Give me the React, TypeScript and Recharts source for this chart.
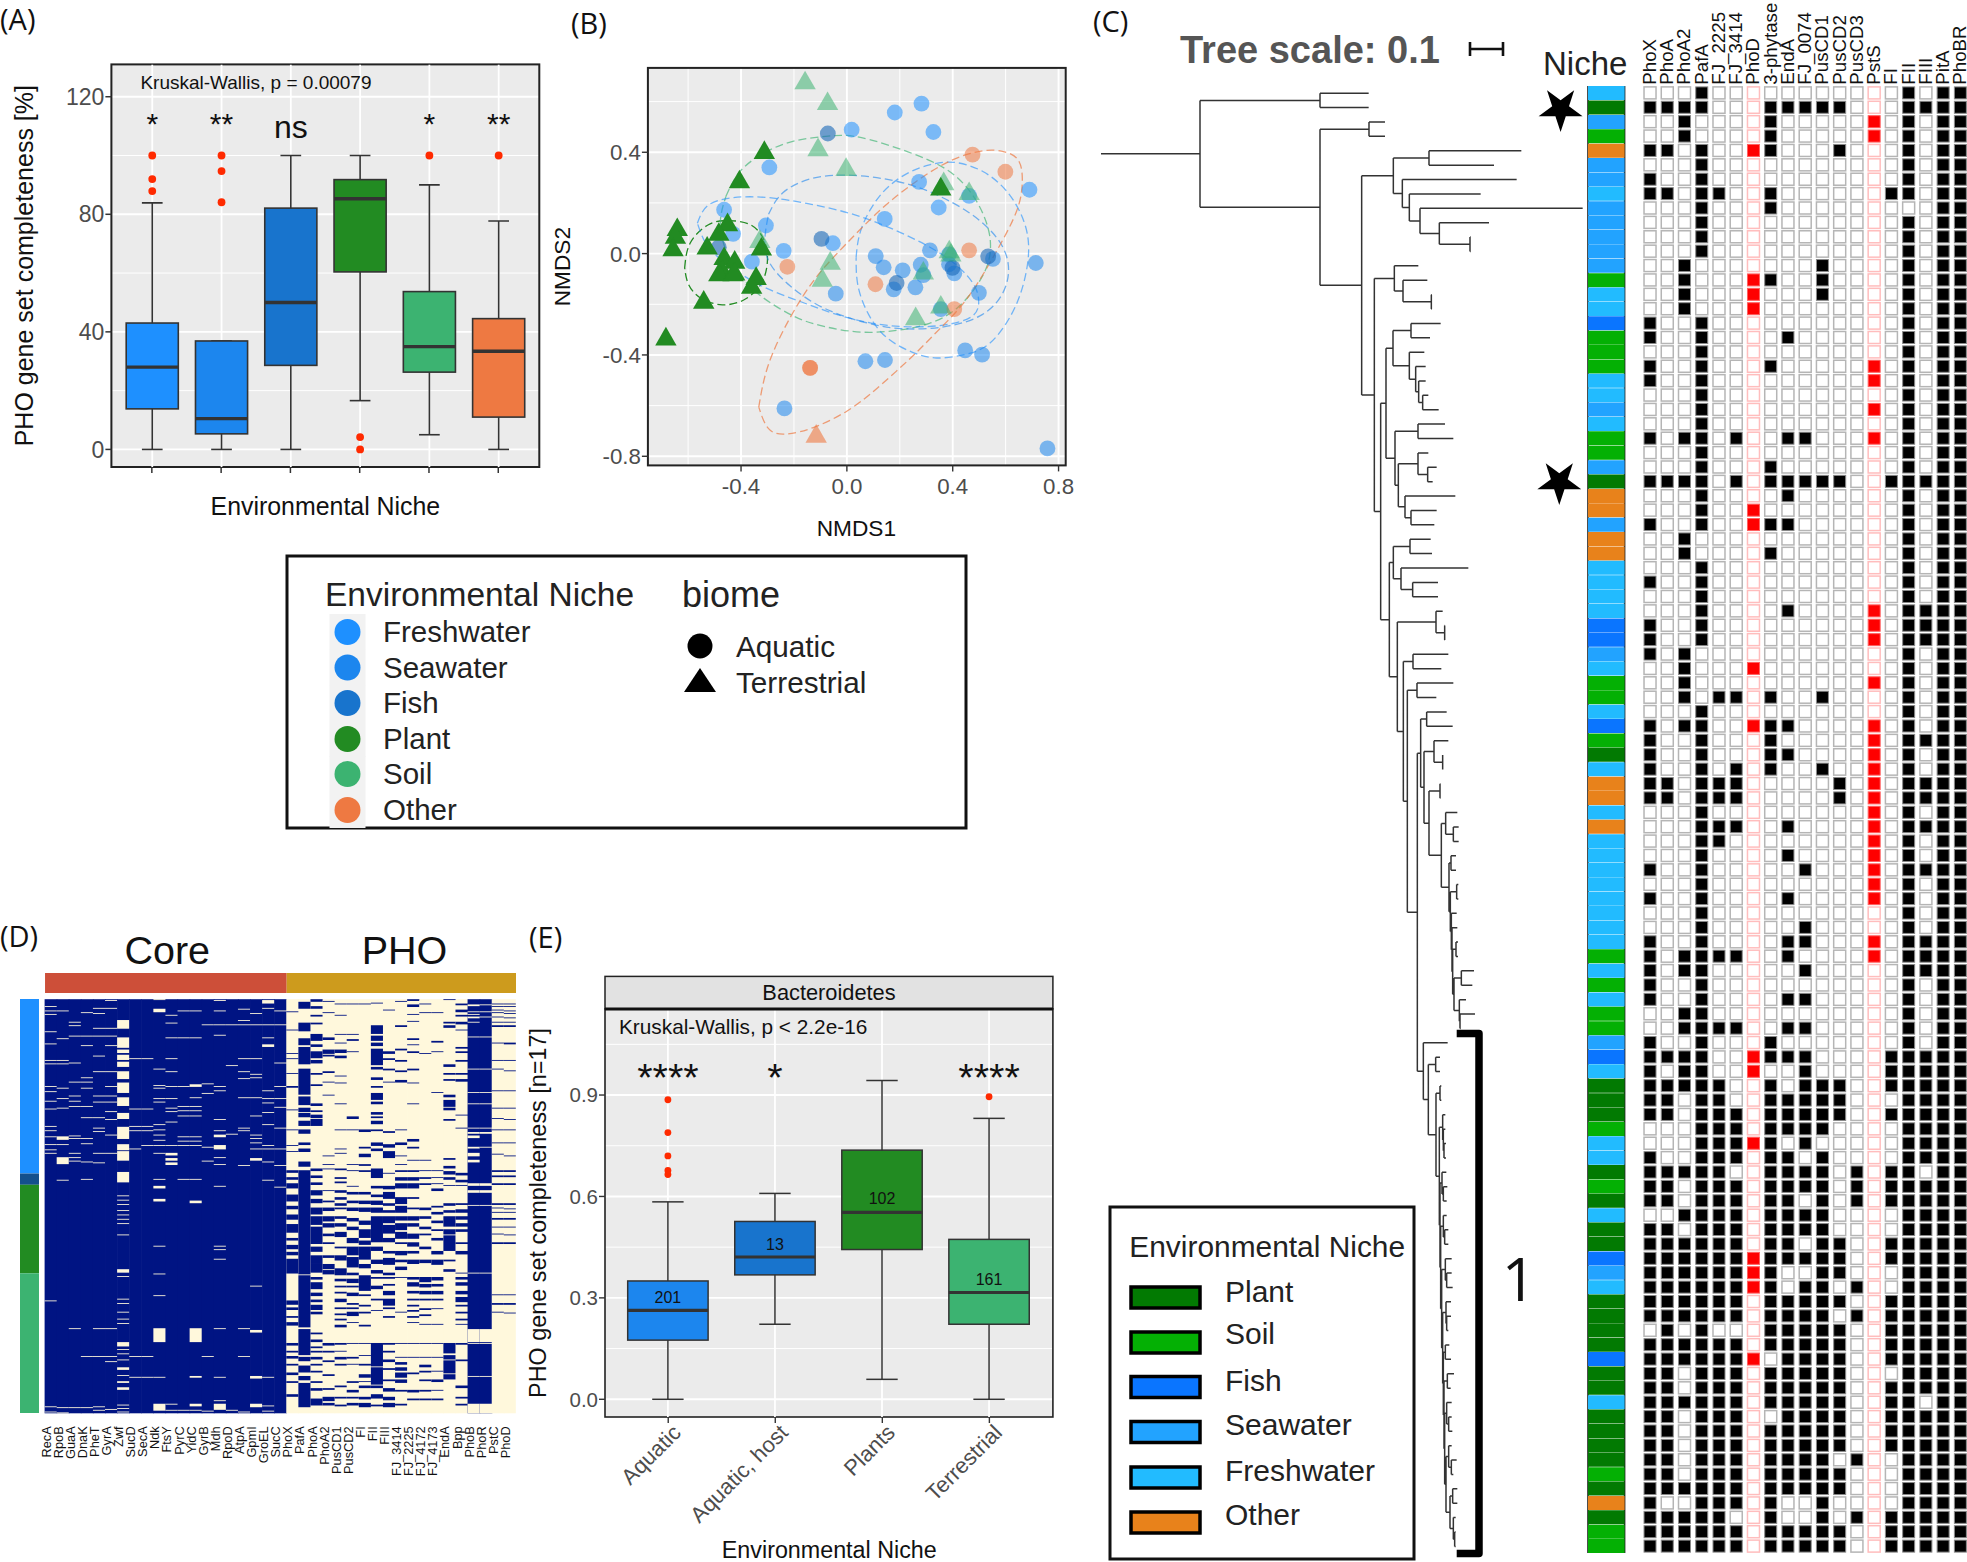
import {
  Bar,
  BarChart,
  CartesianGrid,
  Cell,
  ComposedChart,
  Line,
  Scatter,
  Symbols,
  XAxis,
  YAxis,
  usePlotArea,
} from 'recharts'

const SANS = "'Liberation Sans', Arial, sans-serif"
const LABEL_FONT = "'Open Sans', sans-serif"
const GREY = '#4D4D4D'
const DARK = '#333333'
const PANEL_BG = '#EBEBEB'
const RED_DOT = '#FF2A00'

// panel A
const nicheNames = ['Freshwater', 'Seawater', 'Fish', 'Plant', 'Soil', 'Other']
const nicheFills = ['#1E90FF', '#1C86EE', '#1874CD', '#228B22', '#3CB371', '#EE7942']
const aLow = [0, 0, 0, 16.6, 5, 0]
const aQ1 = [13.8, 5.3, 28.6, 60.4, 26.3, 11]
const aMedian = [28, 10.5, 50, 85.3, 35, 33.4]
const aQ3 = [43, 36.9, 82.1, 91.8, 53.7, 44.5]
const aHigh = [83.9, 36.9, 100, 100, 90, 77.7]
const aOutliers = [[100, 92, 87.9], [100, 94.7, 84.1], [], [4.2, 0], [100], [100]]
const aSignif = ['*', '**', 'ns', '', '*', '**']

// panel E
const eNames = ['Aquatic', 'Aquatic, host', 'Plants', 'Terrestrial']
const eFills = ['#1C86EE', '#1874CD', '#228B22', '#3CB371']
const eLow = [0, 0.222, 0.059, 0]
const eQ1 = [0.175, 0.368, 0.443, 0.222]
const eMedian = [0.263, 0.421, 0.553, 0.316]
const eQ3 = [0.35, 0.526, 0.737, 0.473]
const eHigh = [0.584, 0.609, 0.943, 0.831]
const eOutliers = [[0.886, 0.789, 0.72, 0.677, 0.665], [], [], [0.895]]
const eSignif = ['****', '*', '', '****']
const eCounts = [201, 13, 102, 161]
const eCountAt = [0.302, 0.459, 0.593, 0.355]

// panel B, NMDS scores
const freshwaterPts = [
  [0.282, 0.592], [0.181, 0.557], [0.327, 0.48], [0.018, 0.489], [-0.293, 0.34], [0.273, 0.283],
  [0.347, 0.182], [0.462, 0.228], [0.69, 0.252], [0.143, 0.137], [-0.464, 0.173], [-0.306, 0.111],
  [-0.43, 0.078], [-0.053, 0.041], [-0.239, 0.011], [-0.359, -0.032],
]
const seawaterPts = [
  [0.109, -0.01], [0.139, -0.054], [0.211, -0.066], [0.314, 0.013], [0.279, -0.044], [0.386, -0.003],
  [0.406, -0.078], [0.386, -0.042], [0.552, -0.021], [0.714, -0.037], [0.177, -0.141], [0.259, -0.133],
  [0.289, -0.085], [0.499, -0.155], [-0.042, -0.158], [0.355, -0.219], [0.447, -0.382], [0.511, -0.399],
  [0.07, -0.425], [0.144, -0.42], [-0.236, -0.611], [0.758, -0.769],
]
const fishPts = [
  [-0.072, 0.474], [-0.096, 0.058], [-0.484, 0.025], [0.399, -0.056], [0.534, -0.011], [0.188, -0.116],
]
const plantPts = [
  [-0.312, 0.398], [-0.406, 0.282], [-0.641, 0.094], [-0.648, 0.063], [-0.657, 0.014], [-0.451, 0.113],
  [-0.484, 0.075], [-0.528, 0.021], [-0.464, -0.021], [-0.424, -0.035], [-0.323, 0.017], [-0.471, -0.071],
  [-0.484, -0.085], [-0.43, -0.085], [-0.424, -0.082], [-0.343, -0.099], [-0.36, -0.134], [-0.541, -0.193],
  [-0.684, -0.338], [0.355, 0.254],
]
const soilPts = [
  [-0.158, 0.673], [-0.073, 0.591], [-0.109, 0.409], [-0.003, 0.331], [-0.329, 0.047], [-0.063, -0.039],
  [-0.093, -0.106], [0.366, 0.275], [0.462, 0.236], [0.387, 0.006], [0.393, -0.007], [0.289, -0.078],
  [0.26, -0.258], [0.355, -0.212],
]
const otherCircles = [
  [0.475, 0.391], [0.599, 0.323], [0.462, 0.013], [-0.225, -0.052], [0.108, -0.121], [0.406, -0.219],
  [-0.139, -0.451], [-0.139, -0.451],
]
const otherTriangles = [[-0.116, -0.722]]

const plantEllipse = [
  [-0.613, -0.056], [-0.592, 0.042], [-0.525, 0.113], [-0.451, 0.13], [-0.363, 0.113], [-0.309, 0.042],
  [-0.302, -0.049], [-0.329, -0.127], [-0.39, -0.183], [-0.471, -0.202], [-0.552, -0.176], [-0.599, -0.12],
  [-0.613, -0.056],
]
const soilEllipse = [
  [-0.457, 0.226], [-0.404, 0.324], [-0.312, 0.398], [-0.201, 0.444], [-0.08, 0.463], [0.028, 0.463],
  [0.163, 0.426], [0.298, 0.374], [0.406, 0.31], [0.487, 0.212], [0.534, 0.099], [0.541, 0], [0.507, -0.099],
  [0.42, -0.212], [0.312, -0.275], [0.19, -0.303], [0.055, -0.31], [-0.08, -0.289], [-0.201, -0.247],
  [-0.323, -0.169], [-0.397, -0.092], [-0.457, 0.014], [-0.478, 0.127], [-0.457, 0.226],
]
const freshwaterEllipse = [
  [-0.565, 0.12], [-0.525, 0.19], [-0.43, 0.221], [-0.296, 0.221], [-0.147, 0.197], [0.001, 0.162],
  [0.136, 0.113], [0.271, 0.049], [0.393, -0.028], [0.474, -0.113], [0.498, -0.183], [0.474, -0.247],
  [0.366, -0.282], [0.231, -0.289], [0.096, -0.275], [-0.039, -0.24], [-0.174, -0.19], [-0.323, -0.127],
  [-0.444, -0.049], [-0.525, 0.028], [-0.565, 0.12],
]
const seawaterEllipse = [
  [-0.296, 0.155], [-0.242, 0.24], [-0.134, 0.296], [0.001, 0.31], [0.136, 0.296], [0.271, 0.261],
  [0.406, 0.197], [0.514, 0.12], [0.588, 0.028], [0.611, -0.071], [0.582, -0.169], [0.501, -0.247],
  [0.366, -0.289], [0.204, -0.296], [0.055, -0.268], [-0.093, -0.212], [-0.215, -0.127], [-0.296, -0.028],
  [-0.309, 0.071], [-0.296, 0.155],
]
const fishEllipse = [
  [0.035, -0.014], [0.055, 0.099], [0.123, 0.226], [0.217, 0.31], [0.312, 0.35], [0.406, 0.36], [0.514, 0.324],
  [0.609, 0.24], [0.669, 0.127], [0.687, 0.014], [0.669, -0.113], [0.622, -0.24], [0.541, -0.353],
  [0.447, -0.398], [0.339, -0.412], [0.244, -0.388], [0.15, -0.331], [0.082, -0.24], [0.042, -0.127],
  [0.035, -0.014],
]
const otherEllipse = [
  [-0.333, -0.606], [-0.296, -0.437], [-0.215, -0.254], [-0.12, -0.099], [-0.012, 0.028], [0.123, 0.169],
  [0.258, 0.282], [0.393, 0.367], [0.514, 0.406], [0.595, 0.402], [0.649, 0.367], [0.663, 0.282],
  [0.642, 0.169], [0.568, 0.014], [0.46, -0.169], [0.352, -0.296], [0.244, -0.409], [0.109, -0.536],
  [0.001, -0.621], [-0.12, -0.684], [-0.228, -0.712], [-0.296, -0.691], [-0.333, -0.606],
]

// panel C
const geneColumns = [
  'PhoX', 'PhoA', 'PhoA2', 'PafA', 'FJ_2225', 'FJ_3414', 'PhoD', '3-phytase', 'EndA', 'FJ_0074',
  'PusCD1', 'PusCD2', 'PusCD3', 'PstS', 'FI', 'FII', 'FIII', 'PitA', 'PhoBR',
]
const redColumns = [6, 13]
const genePresence = [
  '0001000000000001011', '1111000111110001111', '0010000100000101011', '0010000100000101011',
  '1101001100010001011', '0001000000000001011', '1001000000000001011', '1101100100000011011',
  '0001000100000000011', '0001000000000001011', '0001000000000001011', '0001000000000001011',
  '0010000000100001011', '0010001100100001011', '0010001000100001011', '0010001000000001011',
  '1001000000000001011', '1001000010000001011', '0001000000000001011', '1001000100000101011',
  '1001000000000101011', '0001000000000001011', '0001000000000101011', '0001000000000001011',
  '1011010011000101011', '0001000000000001011', '0001000100000001011', '1111010111110011111',
  '0001000010000001011', '0001001000000001011', '1001001110000001011', '0010000000000001011',
  '0010000100000001011', '0001000000000001011', '1001000000000001011', '0001000000000001011',
  '0001000010000101111', '1001000000000101111', '1001000000000101111', '1010000000000001011',
  '0010001000000001011', '0010000000000101011', '0010110100100001011', '0001000000000001011',
  '1011001110000101011', '1001000100000101111', '1001000110000101011', '1001010100100101011',
  '1101110000010101111', '1101110000010101111', '0001000000000101011', '0001110010000101111',
  '0001100000000101011', '0001000010000101011', '1001000001000101111', '0001000000000101011',
  '1001000010000101011', '0001000000000001011', '0001000001000001011', '1001000011000101111',
  '1011110010000101111', '1011000001000001111', '1001000000000001011', '1001000011000001011',
  '0011000000000001011', '0011110011000001011', '1001000100000001011', '1111001111000011111',
  '1011001001000011111', '1111100101110011111', '1101100111110001111', '1101110111110011111',
  '0001110111100001111', '0001111101000001111', '1001110110100001111', '1111100111101011011',
  '1101110111101011111', '1101110110101011111', '0011110111100001111', '1101110111100001111',
  '1111110110110011111', '1111111111110011111', '1111111100110001111', '1111111101101001111',
  '1111110111110011111', '1111110111101011111', '0101000111110011111', '1111110111110011111',
  '1111111011110011111', '1101110111110001111', '1101110111110011111', '1111110111110011011',
  '1101110011110011111', '1101110111110011111', '1101110111110011111', '1101110111101001111',
  '1101110111110001111', '1111110111110001111', '1001110100100001111', '1111100100101011111',
  '1111110111110011111', '1111110111110011111',
]
const stripColors = {
  P: '#027A02', S: '#04B004', B: '#0A75FF', W: '#22A3FF', F: '#22BBFF', O: '#E8821B',
}
const rowNiche =
  'FPWSOWWFWWWWWSFFBSSSFFWFSSWPOOWOOFFFFBBWFSSFBSPFOOFOFFFFFFFFSFSFSSWBFPPPSFFPSPFPPBWFPPPPBPPFPPPPSPOPSS'
const nicheKey = [
  ['Plant', 'P'], ['Soil', 'S'], ['Fish', 'B'], ['Seawater', 'W'], ['Freshwater', 'F'], ['Other', 'O'],
]

// tree: [branch x, ...children], a plain number is a leaf tip at the next row
const treeRoot = [330,
  [690, 836, 836],
  [690, [837, 885, 885],
    [815,
      [910,
        [1017, 1294, 1212],
        [937, 1280, [958, 1172, [990, 1478, [1048, 1197, [1140, 1142, 1142]]]]],
      ],
      [853,
        [913, 985, [939, 1012, [1024, 1026, 1026]]],
        [872,
          [888,
            [909, [963, 1052, 1020], [958, 1003, [977, 1007, [986, 1007, [998, 1015, 1046]]]]],
            [915, [984, 1065, 1090], [925, [984, 1015, [1013, 1040, 1028]], [945, 1096, [963, 1040, 1033]]]],
          ],
          [898,
            [910, [960, 1022, 1026], [933, 1135, [968, 1044, 1044]]],
            [922,
              [1038, 1058, [1064, 1065, 1065]],
              [940,
                [969, 1075, 1054],
                [952,
                  [981, 1090, 1039],
                  [982,
                    [992,
                      [1010, 1070, 1088],
                      [1002,
                        [1032, 1075, [1058, 1058, 1058]],
                        [1017,
                          [1050, 1051, 1051],
                          [1054,
                            [1067, 1102, [1090, 1106, 1106]],
                            [1077,
                              [1083, 1098, 1098],
                              [1081,
                                [1100, 1105, 1105],
                                [1084, 1100,
                                  [1086, 1102,
                                    [1088,
                                      [1098, 1104, 1104],
                                      [1092,
                                        [1114, 1152, 1147],
                                        [1096, [1108, 1128, [1110, 1155, 1112]]],
                                      ],
                                    ],
                                  ],
                                ],
                              ],
                            ],
                          ],
                        ],
                      ],
                    ],
                    [1000, 1073,
                      [1015,
                        [1037, 1050, 1050],
                        [1038,
                          [1050, 1054, 1054],
                          [1048,
                            [1058, 1066, [1060, 1066, [1062, 1068, 1068]]],
                            [1050,
                              [1056, 1069, [1060, 1072, 1070]],
                              [1052,
                                [1060, 1070, [1064, 1075, 1075]],
                                [1055,
                                  [1066, 1085, [1070, 1085, 1088]],
                                  [1058,
                                    [1068, 1083, [1070, 1083, 1075]],
                                    [1060,
                                      [1066, 1078, 1083],
                                      [1062,
                                        [1072, 1092, 1082],
                                        [1064,
                                          [1070, 1085, [1076, 1085, 1087]],
                                          [1068,
                                            [1076, 1085, [1084, 1100, 1090]],
                                            [1080,
                                              [1088, 1102, 1102],
                                              [1090, 1097, [1094, 1097, 1097]],
                                            ],
                                          ],
                                        ],
                                      ],
                                    ],
                                  ],
                                ],
                              ],
                            ],
                          ],
                        ],
                      ],
                    ],
                  ],
                ],
              ],
            ],
          ],
        ],
      ],
    ],
  ],
]

// panel D: rows are genomes; a number is one row in the contrast colour, a pair is [start row, length]
const heatRows = 477
const coreGenes = [
  'RecA', 'RpoB', 'GuaA', 'DnaK', 'PheT', 'GyrA', 'Zwf', 'SucD', 'SecA', 'Ndk',
  'FtsY', 'PyrC', 'YidC', 'GyrB', 'Mdh', 'RpoD', 'AtpA', 'GpmI', 'GroEL', 'SucC',
]
const phoGenes = [
  'PhoX', 'PafA', 'PhoA', 'PhoA2', 'PusCD1', 'PusCD2', 'FI', 'FII', 'FIII', 'FJ_3414',
  'FJ_2225', 'FJ_4172', 'FJ_4173', 'EndA', 'Bpp', 'PhoB', 'PhoR', 'PstC', 'PhoD',
]
const navyBased = ['PhoB', 'PhoR']
const coreRuns = [
  [8, 13, 17, 37, 51, 70, 74, 100, 106, 117, 126, 146, 151, 158, 167, 173, 177, 347, 469, 475],
  [13, 45, 70, 74, 102, 114, 125, [158, 4], 167, [182, 8], 208, 470, 476],
  [26, 30, 42, 73, 95, 111, 117, 123, 157, 160, 177, 182, 186, 379, 470],
  [15, 42, 53, 90, 95, 102, 123, 136, 160, 166, 187, 207, 411, 470],
  [10, 16, 33, 42, 65, 83, 111, 118, 136, 148, 152, 177, 188, 379, 411, 469, 473],
  [1, 10, 33, 42, 53, 83, 100, 111, 118, 129, 138, 156, 177, 379, 411, 417, 472],
  [[24, 10], [44, 12], [58, 4], [64, 6], [72, 6], [83, 9], [96, 12], [113, 10], [131, 7], [147, 14], [167, 7],
    [175, 11], [199, 12], 226, 231, 236, 243, 248, 253, 258, 271, [311, 4], 319, 345, 350, 360, 368, 373,
    [395, 5], 403, 408, 415, [424, 3], 433, [440, 2], [447, 3], 467, 471, 475],
  [68, 126, 146, 151, 172, 411, 435],
  [68, 126, 146, 151, 168, 411, 435],
  [0, [11, 4], 80, 99, 102, 114, 118, 144, 150, 156, 162, 168, 177, 207, [215, 3], [230, 3], 284, 316, 341,
    [379, 16], 435, [466, 8]],
  [18, 27, 44, 68, 83, 100, 114, 125, 129, 141, 168, [177, 3], [183, 3], [188, 3], 466, 473],
  [13, 44, 100, 123, 128, 134, 158, 163, 168, 207, 473],
  [13, 44, [98, 3], 113, 123, 128, 134, 158, 163, 168, 207, [232, 3], [379, 16], [434, 2], [466, 3], 473],
  [29, 97, 108, 170, 186, 411, 474],
  [1, 13, 29, 41, 100, 105, 138, 151, [156, 3], [168, 5], 182, 190, 215, 284, 288, 299, 379, 435, 462, [466, 7]],
  [29, 76, 155, 473],
  [11, 24, 29, 68, 83, 91, 113, 148, 151, 191, 379, 411, 475],
  [16, 29, 68, 86, 90, 113, 134, 156, 160, 165, 172, [183, 3], 330, [381, 3], [434, 3], [466, 4]],
  [[1, 4], 10, 29, 44, [52, 3], 105, 114, 119, 130, 144, 168, 172, 187, 208, 435, 468, 474],
  [13, 29, 73, 100, 114, 124, 148, 172, 191, 216],
]
const phoRuns = [
  [14, 35, 62, 68, 85, [100, 2], 127, 150, 168, 175, [197, 3], [205, 3], [212, 6], [225, 8], [238, 4], [248, 6],
    [259, 10], [275, 3], [283, 5], [291, 4], [299, 17], [347, 5], [355, 3], [365, 2], [372, 4], [396, 3],
    [405, 2], [411, 3], [420, 2], [430, 3], [440, 2], [455, 3]],
  [[3, 8], [27, 10], [45, 8], [55, 20], [80, 30], [112, 10], [125, 5], [131, 5], [140, 6], [150, 5], [165, 3],
    [172, 4], [187, 6], [197, 120], [318, 60], [380, 30], [412, 5], [422, 8], [434, 5], [442, 28]],
  [[0, 3], [8, 3], [18, 2], [27, 2], [40, 8], [52, 3], [60, 8], [70, 4], [85, 2], [98, 2], [120, 3], [128, 2],
    [133, 4], [138, 8], [195, 3], [203, 3], [211, 3], [220, 6], [230, 5], [240, 8], [250, 10], [262, 20],
    [285, 6], [295, 10], [305, 10], [320, 3], [326, 8], [338, 4], [346, 3], [352, 6], [360, 3], [384, 2],
    [392, 3], [400, 2], [405, 2], [412, 3], [420, 2], [428, 2], [440, 2], [448, 3], [460, 8]],
  [2, 15, [44, 3], [58, 5], [64, 2], [83, 2], 95, 110, 180, 190, 195, 220, [232, 2], [240, 4], [250, 6], [258, 5],
    [270, 3], [280, 2], [295, 3], [305, 6], [312, 5], [396, 3], [405, 2], [416, 2], [432, 2], [448, 2], [458, 5],
    [465, 3]],
  [5, 18, 40, 50, [58, 4], [65, 3], 88, 96, 120, 150, 172, 177, [195, 2], [205, 2], [210, 2], [220, 3], [228, 3],
    [235, 3], [240, 2], [250, 3], [258, 4], [268, 6], [285, 2], [295, 6], [310, 8], [322, 3], [330, 2], [337, 2],
    [345, 4], [355, 2], [362, 2], [368, 2], [375, 3], [396, 2], 405, [412, 3], [420, 2], [445, 2], [458, 2], [467, 2]],
  [5, 40, [46, 2], 60, [135, 3], 150, 190, 197, 215, [222, 3], [232, 3], [240, 4], [252, 4], [262, 4], [275, 6],
    [285, 10], [297, 12], [315, 3], [322, 5], [330, 2], [338, 4], [350, 2], [355, 2], [360, 5], 372, 396, [412, 2],
    420, [440, 2], [450, 3], [458, 2], [465, 3]],
  [5, [150, 3], [170, 2], [178, 4], [190, 2], [197, 2], [222, 3], [232, 4], [240, 5], [255, 5], [265, 10],
    [278, 5], [285, 15], [305, 5], [318, 18], [340, 2], [352, 2], [360, 2], [375, 2], 396, 410, [420, 2], [432, 4],
    440, [445, 3], [458, 3], [465, 5]],
  [4, [30, 10], [42, 6], [50, 4], [57, 19], [78, 3], [90, 3], [100, 2], [108, 8], [118, 3], [130, 3], [135, 2],
    [140, 4], [150, 2], [165, 4], [172, 3], [195, 11], [215, 3], [225, 3], [232, 5], [240, 6], [250, 30], [285, 5],
    [300, 5], [312, 4], [320, 2], [330, 4], [345, 2], 358, [396, 27], [424, 20], [445, 3], [455, 5], [467, 2]],
  [12, [60, 3], [68, 2], [80, 2], 95, [152, 2], [167, 4], [175, 8], 200, [215, 4], [222, 8], [235, 3], [243, 3],
    [250, 8], [260, 10], [275, 5], [290, 3], [298, 8], [315, 3], [320, 2], [328, 2], [336, 5], [345, 8], [355, 2],
    [365, 2], [396, 2], [405, 2], [415, 3], [425, 2], [438, 2], [448, 4], [458, 4], [465, 5]],
  [2, [30, 2], [57, 2], [70, 2], [82, 2], [93, 3], 150, [165, 3], 180, 190, [197, 2], [205, 4], [212, 6], [228, 8],
    [238, 8], [250, 5], [258, 8], [268, 8], [280, 2], [290, 5], [300, 3], [308, 4], 320, 360, 396, 412, [418, 3],
    [424, 4], [430, 6], [438, 4], [450, 2], [466, 2]],
  [[0, 2], [6, 3], 17, 25, [45, 2], 52, [60, 2], [80, 2], 96, 120, [161, 3], [170, 2], 185, [197, 2], [205, 4],
    [212, 6], [228, 2], [240, 2], [250, 5], [258, 4], [270, 6], [280, 5], [290, 3], [300, 5], [320, 3], [326, 5],
    [336, 3], [345, 2], [352, 2], [358, 2], [365, 2], 372, 396, 412, [430, 2], [450, 3], [460, 2]],
  [5, 15, 62, 185, 197, [205, 2], [212, 2], [240, 3], [250, 3], [262, 3], [270, 2], [285, 3], [300, 4], [320, 6],
    [328, 4], [336, 4], [345, 2], [356, 2], [363, 2], 374, 396, 412, [421, 3], [428, 2], [438, 2], [450, 2], [460, 2]],
  [15, [48, 2], 60, 107, 197, 205, 212, [218, 3], [238, 2], [245, 3], [255, 3], [265, 2], [275, 3], [290, 4],
    [300, 6], [320, 4], [328, 3], [336, 4], [345, 2], 356, 374, 396, 412, 428, [438, 3], 450, [460, 2]],
  [0, [26, 2], [30, 3], [75, 3], [85, 2], [92, 2], [110, 3], [116, 8], [125, 3], [138, 2], [183, 2], [192, 3],
    [198, 4], [205, 3], 214, [235, 3], [243, 3], [250, 12], [265, 6], [272, 18], [300, 2], [311, 3], [396, 12],
    [410, 5], [416, 15], [432, 6]],
  [[5, 2], [12, 3], [18, 2], [26, 3], 35, [55, 2], [60, 2], [70, 2], [85, 2], [92, 3], 133, 148, [200, 3], [208, 3],
    214, [235, 2], [242, 4], [250, 4], [258, 4], [265, 3], [280, 2], [290, 4], 315, [320, 3], [326, 4], [336, 4],
    [343, 6], [352, 2], [360, 2], [368, 2], 374, [396, 2], [415, 2], [445, 3], [458, 2], [466, 2]],
  [[6, 2], 14, 17, [20, 2], 26, 43, 80, 107, 120, 148, [153, 2], [157, 3], [170, 2], [177, 4], [185, 3], [212, 3],
    [220, 3], 237, 315, [380, 15], 396, 434, [466, 11]],
  [6, 14, 20, 43, 80, 107, 120, 148, [153, 2], 170, [212, 3], [220, 3], 237, 315, [380, 15], 396, 434, [466, 11]],
  [5, 8, 12, 15, 20, 26, [30, 2], 50, 70, 80, 105, 125, 137, 150, 165, 178, [197, 2], [203, 2], [212, 2], [235, 2],
    240, 245, [252, 2], 262, 270, [280, 2], 340, [350, 2], 360],
  [5, 8, 13, 16, 21, 26, [30, 2], [50, 2], 70, 82, 105, 125, 138, 150, 165, 180, [197, 2], [203, 2], [212, 2],
    [235, 2], 241, 245, [252, 2], 262, 271, [280, 2], 340, [350, 2], 361],
]
const genomeGroups = [201, 13, 102, 161]
const genomeGroupFills = ['#1E90FF', '#14508C', '#228B22', '#3CB371']
const geneSetSizes = [20, 19]
const geneSetFills = ['#CD4F39', '#CD9B1D']

const NAVY = '#001483'
const CREAM = '#FFF8DC'

const toXY = (pts: number[][]) => pts.map(([x, y]) => ({ x, y }))

function PlotFrame({ width = 2 }: { width?: number }) {
  const area = usePlotArea()
  if (!area) return null
  return (
    <rect x={area.x} y={area.y} width={area.width} height={area.height} fill='none' stroke='#222' strokeWidth={width} />
  )
}

// whole box plot for one category, scaled from the pixel height of the q1-q3 bar
function BoxMark(props: any) {
  const { x, y, width, height, payload, domain, capWidth, dotR, lineW, sigSize } = props
  const { q1, q3, median, low, high, outliers, fill, sig, sigAt, n, nAt } = payload
  const perUnit = Math.abs(height) / (q3 - q1)
  const top = Math.min(y, y + height)
  const py = (v: number) => top + (q3 - v) * perUnit
  const cx = x + width / 2
  return (
    <g>
      <line x1={cx} x2={cx} y1={py(domain[1])} y2={py(domain[0])} stroke='#fff' strokeWidth={1.8} />
      <line x1={cx} x2={cx} y1={py(high)} y2={py(low)} stroke={DARK} strokeWidth={lineW} />
      <line x1={cx - capWidth / 2} x2={cx + capWidth / 2} y1={py(high)} y2={py(high)} stroke={DARK} strokeWidth={lineW} />
      <line x1={cx - capWidth / 2} x2={cx + capWidth / 2} y1={py(low)} y2={py(low)} stroke={DARK} strokeWidth={lineW} />
      <rect x={x} y={top} width={width} height={Math.abs(height)} fill={fill} stroke={DARK} strokeWidth={lineW} />
      <line x1={x} x2={x + width} y1={py(median)} y2={py(median)} stroke={DARK} strokeWidth={lineW * 2.1} />
      {outliers.map((v: number, i: number) => (
        <circle key={i} cx={cx} cy={py(v)} r={dotR} fill={RED_DOT} />
      ))}
      {n != null && (
        <text x={cx} y={py(nAt)} textAnchor='middle' dominantBaseline='central' fontSize={16} fontFamily={SANS} fill='#111'>
          {n}
        </text>
      )}
      {sig && (
        <text
          x={cx} y={sig === 'ns' ? py(sigAt) + 3.8 : py(sigAt)} textAnchor='middle' fontFamily={SANS} fill='#111'
          fontSize={sig === 'ns' ? 32 : sigSize}
        >
          {sig}
        </text>
      )}
    </g>
  )
}

const aBoxes = nicheNames.map((name, i) => ({
  name, box: [aQ1[i], aQ3[i]], q1: aQ1[i], q3: aQ3[i], median: aMedian[i], low: aLow[i], high: aHigh[i],
  outliers: aOutliers[i], fill: nicheFills[i], sig: aSignif[i], sigAt: 107.3,
}))
const eBoxes = eNames.map((name, i) => ({
  name, box: [eQ1[i], eQ3[i]], q1: eQ1[i], q3: eQ3[i], median: eMedian[i], low: eLow[i], high: eHigh[i],
  outliers: eOutliers[i], fill: eFills[i], sig: eSignif[i], sigAt: 0.911, n: eCounts[i], nAt: eCountAt[i],
}))

function SlantTick({ x, y, payload }: any) {
  return (
    <text
      x={x + 14} y={y + 9} textAnchor='end' fontSize={22} fontFamily={SANS} fill={GREY}
      transform={`rotate(-45 ${x + 14} ${y + 9})`}
    >
      {payload.value}
    </text>
  )
}

function PanelA() {
  const domain = [-5.98, 131]
  return (
    <BarChart
      width={560} height={470} data={aBoxes}
      margin={{ top: 24.4, left: 51.4, right: 20.7, bottom: 23 }}
      style={{ position: 'absolute', left: 0, top: 40 }}
    >
      <CartesianGrid vertical={false} fill={PANEL_BG} stroke='#fff' strokeWidth={1} horizontalValues={[20, 60, 100]} />
      <CartesianGrid vertical={false} stroke='#fff' strokeWidth={1.9} horizontalValues={[0, 40, 80, 120]} />
      <XAxis
        dataKey='name' padding={{ left: 5.8, right: 6.4 }} axisLine={false} tickSize={6} height={20}
        tickLine={{ stroke: DARK, strokeWidth: 1.5 }} tickFormatter={() => ''}
      />
      <YAxis
        type='number' domain={domain} allowDataOverflow ticks={[0, 40, 80, 120]} width={60} axisLine={false} tickSize={6}
        tickMargin={1} tickLine={{ stroke: DARK, strokeWidth: 1.5 }}
        tick={{ fontSize: 23, fill: GREY, fontFamily: SANS }}
      />
      <Bar
        dataKey='box' barSize={52.1} isAnimationActive={false}
        shape={(p: any) => <BoxMark {...p} domain={domain} capWidth={20.7} dotR={3.9} lineW={1.6} sigSize={30} />}
      />
      <PlotFrame />
    </BarChart>
  )
}

function PanelE() {
  const domain = [-0.0524, 1.1548]
  return (
    <BarChart
      width={540} height={527} data={eBoxes}
      margin={{ top: 8.9, left: 15, right: 17.1, bottom: 10 }}
      style={{ position: 'absolute', left: 530, top: 1000 }}
    >
      <CartesianGrid vertical={false} fill={PANEL_BG} stroke='#fff' strokeWidth={1} horizontalValues={[0.15, 0.45, 0.75, 1.05]} />
      <CartesianGrid vertical={false} stroke='#fff' strokeWidth={1.9} horizontalValues={[0, 0.3, 0.6, 0.9]} />
      <XAxis
        dataKey='name' padding={{ left: 9.7, right: 10 }} axisLine={false} tickSize={6} height={100} interval={0}
        tickLine={{ stroke: DARK, strokeWidth: 1.4 }} tick={<SlantTick />}
      />
      <YAxis
        type='number' domain={domain} allowDataOverflow ticks={[0, 0.3, 0.6, 0.9]} width={60} axisLine={false} tickSize={6}
        tickMargin={1} tickLine={{ stroke: DARK, strokeWidth: 1.4 }} tickFormatter={(v: number) => v.toFixed(1)}
        tick={{ fontSize: 20.5, fill: GREY, fontFamily: SANS }}
      />
      <Bar
        dataKey='box' barSize={80.4} isAnimationActive={false}
        shape={(p: any) => <BoxMark {...p} domain={domain} capWidth={31.4} dotR={3.4} lineW={1.5} sigSize={39.5} />}
      />
      <PlotFrame width={1.6} />
    </BarChart>
  )
}

const circleMark = (fill: string, opacity: number) => (p: any) => (
  <circle cx={p.cx} cy={p.cy} r={7.9} fill={fill} fillOpacity={opacity} />
)
const triangleMark = (fill: string, opacity: number) => (p: any) => (
  <polygon
    points={`${p.cx - 10.7},${p.cy + 6.2} ${p.cx + 10.7},${p.cy + 6.2} ${p.cx},${p.cy - 12.4}`}
    fill={fill} fillOpacity={opacity}
  />
)
const ellipseLines = [
  { name: 'plant', pts: plantEllipse, color: '#228B22', opacity: 1 },
  { name: 'soil', pts: soilEllipse, color: '#3CB371', opacity: 0.65 },
  { name: 'freshwater', pts: freshwaterEllipse, color: '#1E90FF', opacity: 0.6 },
  { name: 'seawater', pts: seawaterEllipse, color: '#1C86EE', opacity: 0.6 },
  { name: 'fish', pts: fishEllipse, color: '#1E90FF', opacity: 0.6 },
  { name: 'other', pts: otherEllipse, color: '#EE7942', opacity: 0.7 },
]

function PanelB() {
  return (
    <ComposedChart
      width={520} height={470}
      margin={{ top: 27.9, left: 27.9, right: 14.3, bottom: 4.6 }}
      style={{ position: 'absolute', left: 560, top: 40 }}
    >
      <CartesianGrid
        fill={PANEL_BG} stroke='#fff' strokeWidth={1}
        horizontalValues={[0.6, 0.2, -0.2, -0.6]} verticalValues={[-0.6, -0.2, 0.2, 0.6]}
      />
      <CartesianGrid
        stroke='#fff' strokeWidth={1.9}
        horizontalValues={[0.4, 0, -0.4, -0.8]} verticalValues={[-0.4, 0, 0.4, 0.8]}
      />
      <XAxis
        type='number' dataKey='x' domain={[-0.752, 0.827]} allowDataOverflow ticks={[-0.4, 0, 0.4, 0.8]} height={40}
        axisLine={false} tickSize={6} tickMargin={7} tickLine={{ stroke: DARK, strokeWidth: 1.4 }}
        tickFormatter={(v: number) => v.toFixed(1)} tick={{ fontSize: 22.3, fill: GREY, fontFamily: SANS }}
      />
      <YAxis
        type='number' dataKey='y' domain={[-0.836, 0.733]} allowDataOverflow ticks={[-0.8, -0.4, 0, 0.4]} width={60}
        axisLine={false} tickSize={6} tickMargin={1} tickLine={{ stroke: DARK, strokeWidth: 1.4 }}
        tickFormatter={(v: number) => v.toFixed(1)} tick={{ fontSize: 22.3, fill: GREY, fontFamily: SANS }}
      />
      <Scatter data={toXY(freshwaterPts)} dataKey='y' shape={circleMark('#1E90FF', 0.55)} isAnimationActive={false} />
      <Scatter data={toXY(seawaterPts)} dataKey='y' shape={circleMark('#1C86EE', 0.55)} isAnimationActive={false} />
      <Scatter data={toXY(fishPts)} dataKey='y' shape={circleMark('#1868B8', 0.6)} isAnimationActive={false} />
      <Scatter data={toXY(otherCircles)} dataKey='y' shape={circleMark('#EE7942', 0.55)} isAnimationActive={false} />
      <Scatter data={toXY(otherTriangles)} dataKey='y' shape={triangleMark('#EE7942', 0.6)} isAnimationActive={false} />
      <Scatter data={toXY(soilPts)} dataKey='y' shape={triangleMark('#3CB371', 0.55)} isAnimationActive={false} />
      <Scatter data={toXY(plantPts)} dataKey='y' shape={triangleMark('#228B22', 1)} isAnimationActive={false} />
      {ellipseLines.map((e) => (
        <Line
          key={e.name} data={toXY(e.pts)} dataKey='y' type='natural' stroke={e.color} strokeOpacity={e.opacity}
          strokeWidth={1.3} strokeDasharray='8 4' dot={false} activeDot={false} isAnimationActive={false}
        />
      ))}
      <PlotFrame />
    </ComposedChart>
  )
}

function flattenTree() {
  const out: { x: number; y: number | null }[] = []
  let nextRow = 0
  const walk = (node: any, parentX: number): number => {
    if (typeof node === 'number') {
      const row = nextRow++
      out.push({ x: parentX, y: row }, { x: node, y: row }, { x: node, y: null })
      return row
    }
    const [x, ...kids] = node
    const rows = kids.map((k: any) => walk(k, x))
    const first = rows[0]
    const last = rows[rows.length - 1]
    const mid = (first + last) / 2
    out.push({ x, y: first }, { x, y: last }, { x, y: null })
    out.push({ x: parentX, y: mid }, { x, y: mid }, { x, y: null })
    return mid
  }
  walk(treeRoot, 33)
  return out
}

function PhyloTree() {
  return (
    <ComposedChart
      width={500} height={1467.6} data={flattenTree()} margin={{ top: 0, left: 0, right: 0, bottom: 0 }}
      style={{ position: 'absolute', left: 1090, top: 85.7 }}
    >
      <XAxis hide type='number' dataKey='x' domain={[0, 1500]} allowDataOverflow />
      <YAxis hide type='number' reversed domain={[-0.5, 101.5]} allowDataOverflow />
      <Line dataKey='y' stroke={DARK} strokeWidth={1.5} dot={false} activeDot={false} isAnimationActive={false} />
    </ComposedChart>
  )
}

function NicheStrip() {
  const rows = rowNiche.split('').map((code, row) => ({ row, code, span: 1 }))
  return (
    <BarChart
      layout='vertical' width={40.6} height={1467.6} data={rows} barCategoryGap={0}
      margin={{ top: 0, left: 2, right: 2, bottom: 0 }}
      style={{ position: 'absolute', left: 1585.7, top: 85.7 }}
    >
      <XAxis hide type='number' domain={[0, 1]} />
      <YAxis hide type='category' dataKey='row' />
      <Bar dataKey='span' isAnimationActive={false}>
        {rows.map((r) => (
          <Cell key={r.row} fill={stripColors[r.code as keyof typeof stripColors]} />
        ))}
      </Bar>
      <PlotFrame width={1.6} />
    </BarChart>
  )
}

function GeneCell({ cx, cy, payload }: any) {
  const red = redColumns.includes(payload.col)
  if (payload.on) {
    return <rect x={cx - 6} y={cy - 6} width={12} height={12} fill={red ? '#FF0000' : '#000'} stroke={red ? '#FF6060' : '#8A8A8A'} strokeWidth={1} />
  }
  return <rect x={cx - 6} y={cy - 6} width={12} height={12} fill='#fff' stroke={red ? '#FFBDBD' : '#B5B5B5'} strokeWidth={1.5} />
}

function ColumnTick({ x, y, payload }: any) {
  const bx = x + 6
  return (
    <text x={bx} y={y} fontSize={18.7} fontFamily={SANS} fill='#111' transform={`rotate(-90 ${bx} ${y})`}>
      {geneColumns[payload.value]}
    </text>
  )
}

function GeneMatrix() {
  const cells = genePresence.flatMap((line, row) =>
    line.split('').map((flag, col) => ({ col, row, on: flag === '1' })),
  )
  return (
    <ComposedChart
      width={345} height={1562}
      margin={{ top: 0, left: 11.4, right: 6, bottom: 8.7 }}
      style={{ position: 'absolute', left: 1630, top: 0 }}
    >
      <XAxis
        orientation='top' type='number' dataKey='col' domain={[-0.5, 18.5]} allowDataOverflow
        ticks={geneColumns.map((_, i) => i)} interval={0} height={85.7} axisLine={false} tickLine={false} tickSize={0}
        tickMargin={1} tick={<ColumnTick />}
      />
      <YAxis hide type='number' dataKey='row' reversed domain={[-0.5, 101.5]} allowDataOverflow />
      <Scatter data={cells} dataKey='row' shape={<GeneCell />} isAnimationActive={false} />
    </ComposedChart>
  )
}

function RunColumn({ x, y, width, height, payload }: any) {
  const perRow = Math.abs(height) / heatRows
  const top = Math.min(y, y + height)
  const isLast = payload.gene === phoGenes[phoGenes.length - 1]
  const w = isLast ? width : width + 0.7
  return (
    <g>
      <rect x={x} y={top} width={w} height={Math.abs(height)} fill={payload.base} />
      {payload.runs.map((run: any, i: number) => {
        const [start, len] = Array.isArray(run) ? run : [run, 1]
        return <rect key={i} x={x} y={top + start * perRow} width={w} height={len * perRow} fill={payload.contrast} />
      })}
    </g>
  )
}

function GeneLabelTick({ x, y, payload }: any) {
  return (
    <text x={x} y={y} textAnchor='end' fontSize={12.8} fontFamily={SANS} fill='#111' transform={`rotate(-90 ${x} ${y})`}>
      {payload.value}
    </text>
  )
}

function CoreHeatmap() {
  const columns = [...coreGenes, ...phoGenes].map((gene, i) => {
    const isCore = i < coreGenes.length
    const navyBase = isCore || navyBased.includes(gene)
    return {
      gene, rows: heatRows,
      runs: isCore ? coreRuns[i] : phoRuns[i - coreGenes.length],
      base: navyBase ? NAVY : CREAM,
      contrast: navyBase ? CREAM : NAVY,
    }
  })
  return (
    <BarChart
      width={500} height={490} data={columns} barCategoryGap={0}
      margin={{ top: 9.2, left: 14.6, right: 14.1, bottom: 6.7 }}
      style={{ position: 'absolute', left: 30, top: 990 }}
    >
      <XAxis
        dataKey='gene' interval={0} height={60} axisLine={false} tickLine={false} tickSize={0} tickMargin={13}
        tick={<GeneLabelTick />}
      />
      <YAxis hide type='number' reversed domain={[0, heatRows]} />
      <Bar dataKey='rows' isAnimationActive={false} shape={<RunColumn />} />
    </BarChart>
  )
}

function GenomeStrip() {
  const row = [Object.fromEntries(genomeGroups.map((n, i) => [`g${i}`, n]))]
  return (
    <BarChart
      width={18.9} height={414.1} data={row} barCategoryGap={0} margin={{ top: 0, left: 0, right: 0, bottom: 0 }}
      style={{ position: 'absolute', left: 20, top: 999.2 }}
    >
      <XAxis hide type='category' />
      <YAxis hide type='number' reversed domain={[0, heatRows]} />
      {genomeGroups.map((_, i) => (
        <Bar key={i} dataKey={`g${i}`} stackId='a' fill={genomeGroupFills[i]} isAnimationActive={false} />
      ))}
    </BarChart>
  )
}

function GeneSetBar() {
  const row = [Object.fromEntries(geneSetSizes.map((n, i) => [`s${i}`, n]))]
  return (
    <BarChart
      layout='vertical' width={471.3} height={20.3} data={row} barCategoryGap={0}
      margin={{ top: 0, left: 0, right: 0, bottom: 0 }}
      style={{ position: 'absolute', left: 44.6, top: 973.4 }}
    >
      <XAxis hide type='number' domain={[0, 39]} />
      <YAxis hide type='category' />
      {geneSetSizes.map((_, i) => (
        <Bar key={i} dataKey={`s${i}`} stackId='a' fill={geneSetFills[i]} isAnimationActive={false} />
      ))}
    </BarChart>
  )
}

function Label({ x, y, size, children, anchor = 'start', color = '#111', family = SANS, weight = 'normal', rotate = 0 }: any) {
  return (
    <text
      x={x} y={y} fontSize={size} textAnchor={anchor} fill={color} fontFamily={family} fontWeight={weight}
      transform={rotate ? `rotate(${rotate} ${x} ${y})` : undefined}
    >
      {children}
    </text>
  )
}

function Annotations() {
  const nicheLegendY = [642, 677.5, 713, 749, 784, 820]
  const swatchY = [1285.5, 1330.5, 1375, 1420, 1465.5, 1510.5]
  const swatchLabelY = [1301.7, 1344, 1390.5, 1434.8, 1480.8, 1524.7]
  return (
    <svg width={1967} height={1562} style={{ position: 'absolute', left: 0, top: 0, pointerEvents: 'none' }}>
      <Label x={0} y={30} size={29} family={LABEL_FONT}>(A)</Label>
      <Label x={571} y={34} size={29} family={LABEL_FONT}>(B)</Label>
      <Label x={1093} y={32} size={29} family={LABEL_FONT}>(C)</Label>
      <Label x={0} y={947} size={29} family={LABEL_FONT}>(D)</Label>
      <Label x={529} y={948} size={29} family={LABEL_FONT}>(E)</Label>

      <Label x={140.4} y={88.8} size={19}>Kruskal-Wallis, p = 0.00079</Label>
      <Label x={325.4} y={514.8} size={24.9} anchor='middle'>Environmental Niche</Label>
      <Label x={32.9} y={265.7} size={25} anchor='middle' rotate={-90}>PHO gene set completeness [%]</Label>

      <Label x={856.4} y={535.7} size={22.7} anchor='middle'>NMDS1</Label>
      <Label x={570.4} y={266.6} size={22.7} anchor='middle' rotate={-90}>NMDS2</Label>

      <rect x={287} y={556} width={679} height={272} fill='#fff' stroke='#111' strokeWidth={3} />
      <Label x={325} y={606} size={33.5} color='#222'>Environmental Niche</Label>
      <Label x={682} y={607} size={36} color='#222'>biome</Label>
      {nicheNames.map((name, i) => (
        <g key={name}>
          <rect x={329.5} y={nicheLegendY[i] - 28} width={36} height={36} fill='#F2F2F2' />
          <circle cx={347.5} cy={nicheLegendY[i] - 10} r={13} fill={nicheFills[i]} />
          <Label x={383} y={nicheLegendY[i]} size={29.5} color='#222'>{name}</Label>
        </g>
      ))}
      <circle cx={700} cy={646} r={12.5} fill='#000' />
      <polygon points='684,692 716,692 700,668' fill='#000' />
      <Label x={736} y={657} size={29.7} color='#222'>Aquatic</Label>
      <Label x={736} y={692.5} size={29.7} color='#222'>Terrestrial</Label>

      <Label x={1180} y={63} size={38} weight='bold' color='#555'>Tree scale: 0.1</Label>
      <path d='M1470 42 V56 M1470 49 H1503 M1503 42 V56' stroke='#111' strokeWidth={2.6} fill='none' />
      <Label x={1543} y={75} size={33} color='#222'>Niche</Label>
      <g transform='rotate(180 1560.6 109)'>
        <Symbols type='star' size={600} cx={1560.6} cy={109} fill='#000' />
      </g>
      <g transform='rotate(180 1559.3 482)'>
        <Symbols type='star' size={600} cx={1559.3} cy={482} fill='#000' />
      </g>

      <path d='M1456.7 1033.5 H1479 V1553.5 H1456.7' stroke='#000' strokeWidth={7.5} fill='none' strokeLinejoin='round' />
      <Label x={1519} y={1300.7} size={60} anchor='middle' family={LABEL_FONT}>1</Label>

      <rect x={1110} y={1207} width={304} height={352} fill='#fff' stroke='#111' strokeWidth={3} />
      <Label x={1129.3} y={1256.8} size={29.9} color='#222'>Environmental Niche</Label>
      {nicheKey.map(([name, code], i) => (
        <g key={name}>
          <rect
            x={1131} y={swatchY[i] + 1.5} width={69} height={21}
            fill={stripColors[code as keyof typeof stripColors]} stroke='#000' strokeWidth={3.5}
          />
          <Label x={1225} y={swatchLabelY[i]} size={30} color='#222'>{name}</Label>
        </g>
      ))}

      <Label x={124.4} y={964.2} size={39.5}>Core</Label>
      <Label x={361.7} y={964.2} size={39.5}>PHO</Label>

      <rect x={605} y={976.4} width={447.9} height={32.5} fill='#E2E2E2' stroke='#222' strokeWidth={1.5} />
      <line x1={605} x2={1052.9} y1={1008.9} y2={1008.9} stroke='#111' strokeWidth={3} />
      <Label x={829} y={999.5} size={21.8} anchor='middle'>Bacteroidetes</Label>
      <Label x={619} y={1034} size={20.8}>Kruskal-Wallis, p &lt; 2.2e-16</Label>
      <Label x={829.3} y={1557.7} size={23.3} anchor='middle'>Environmental Niche</Label>
      <Label x={545.7} y={1213} size={23.4} anchor='middle' rotate={-90}>PHO gene set completeness [n=17]</Label>
    </svg>
  )
}

export default function App() {
  return (
    <div style={{ position: 'absolute', left: 0, top: 0, width: 1967, height: 1562, background: '#fff', overflow: 'hidden', fontFamily: SANS }}>
      <PanelA />
      <PanelB />
      <PhyloTree />
      <NicheStrip />
      <GeneMatrix />
      <GenomeStrip />
      <GeneSetBar />
      <CoreHeatmap />
      <PanelE />
      <Annotations />
    </div>
  )
}
